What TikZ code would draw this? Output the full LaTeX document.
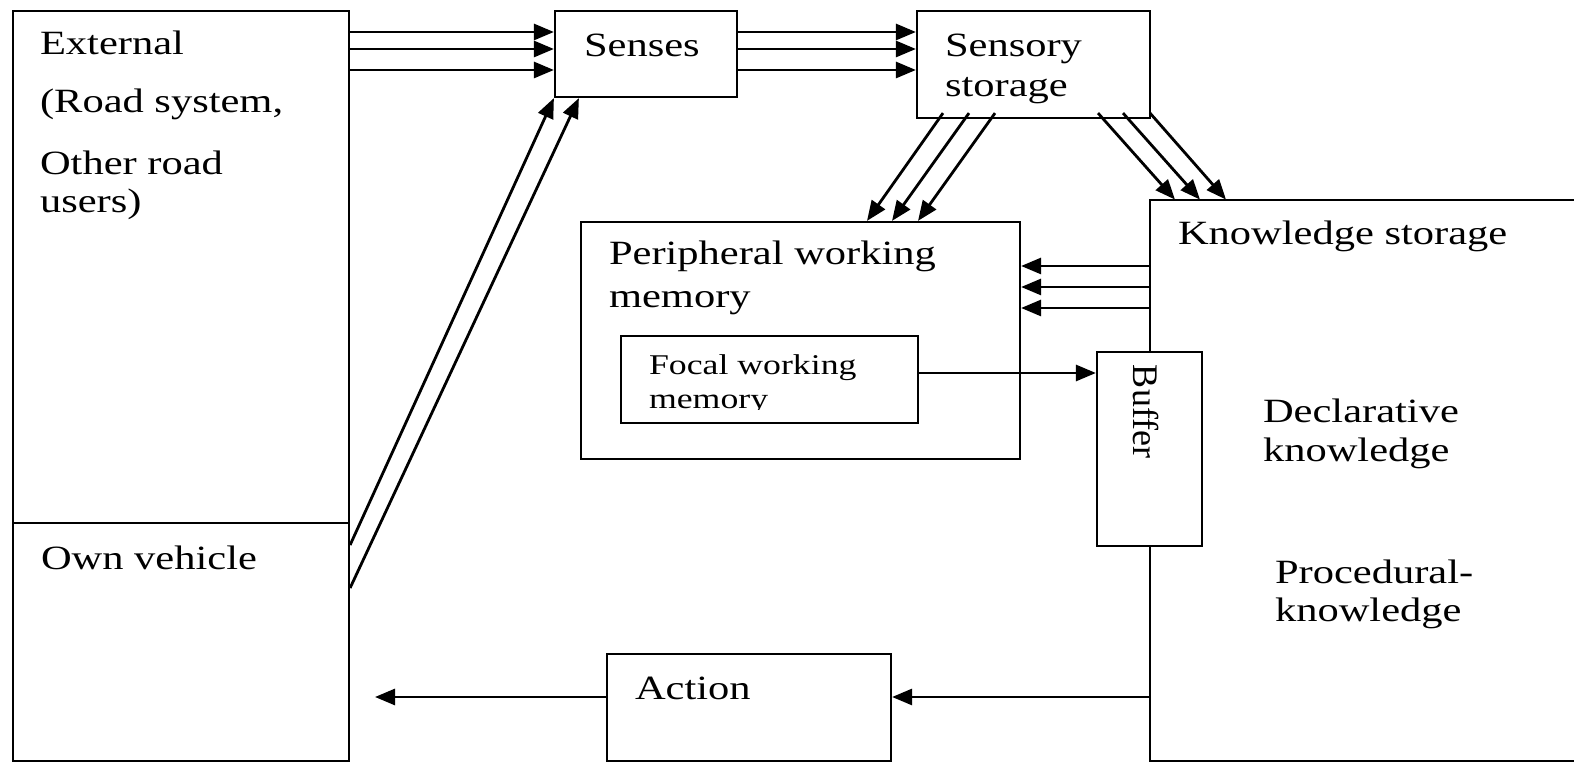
\documentclass[tikz,border=0pt]{standalone}
\usepackage{fontspec}
\setmainfont{Liberation Serif}[FakeStretch=1.25]
\newfontfamily\uprightfont{Liberation Serif}
\usetikzlibrary{arrows.meta}
\usetikzlibrary{fit}
\usetikzlibrary{calc}

\begin{document}
\begin{tikzpicture}[x=0.5pt,y=-0.5pt,
  box/.style={draw, line width=1.1pt, inner sep=0pt, fill=white},
  flow/.style={line width=1.4pt, -{Triangle[length=10pt,width=8pt]}},
  lbl/.style={anchor=base west, inner sep=0pt, outer sep=0pt,
    font=\fontsize{17}{20}\selectfont},
  smalllbl/.style={lbl, font=\fontsize{14.3}{17}\selectfont}]

\useasboundingbox (0,0) rectangle (1574,763);

% boxes
\node[box, fit={(13,11) (349,523)}] (ext) {};
\node[box, fit={(13,523) (349,761)}] (own) {};
\node[box, fit={(555,11) (737,97)}] (senses) {};
\node[box, fit={(917,11) (1150,118)}] (sstore) {};
\node[box, fit={(581,222) (1020,459)}] (periph) {};
\node[box, fit={(621,336) (918,423)}] (focal) {};
\node[box, fit={(607,654) (891,761)}] (action) {};

\node[inner sep=0pt, fit={(1150,200) (1574,761)}] (know) {};
\draw[line width=1pt] (know.north east) -- (know.north west)
  -- (know.south west) -- (know.south east);
\node[box, fit={(1097,352) (1202,546)}] (buffer) {};

\coordinate (actend) at (375,697);

% labels
\begin{scope}
\node[lbl] (lext1) at (40,55) {External};
\node[lbl] (lext2) at (40,113) {(Road system,};
\node[lbl] (lext3) at (40,175) {Other road};
\node[lbl] (lext4) at (40,213) {users)};
\node[lbl] (lown) at (41,570) {Own vehicle};
\node[lbl] (lsenses) at (584,57) {Senses};
\node[lbl] (lsstore1) at (945,57) {Sensory};
\node[lbl] (lsstore2) at (945,97) {storage};
\node[lbl] (lknow) at (1178,245) {Knowledge storage};
\node[lbl] (lperiph1) at (609,265) {Peripheral working};
\node[lbl] (lperiph2) at (609,308) {memory};
\node[lbl] (ldecl1) at (1263,423) {Declarative};
\node[lbl] (ldecl2) at (1263,462) {knowledge};
\node[lbl] (lproc1) at (1275,584) {Procedural-};
\node[lbl] (lproc2) at (1275,622) {knowledge};
\node[lbl] (laction) at (635,700) {Action};
\node[lbl, rotate=-90, font=\uprightfont\fontsize{18}{20}\selectfont]
  (lbuffer) at (1133,365) {Buffer};
\end{scope}

\begin{scope}
\clip (focal.north west) rectangle (focal.east |- 0,410);
\node[smalllbl] (lfocal1) at (649,375) {Focal working};
\node[smalllbl] (lfocal2) at (649,409) {memory};
\end{scope}

% arrows
\foreach \y in {32,49,70}
  \draw[flow] (ext.east |- 0,\y) -- (senses.west |- 0,\y);
\foreach \y in {32,49,70}
  \draw[flow] (senses.east |- 0,\y) -- (sstore.west |- 0,\y);

\draw[flow] (own.east |- 0,545) -- (senses.south west);
\draw[flow] (own.east |- 0,588) -- ($(senses.south west)+(25,0)$);

\foreach \a/\b in {943/867,969/892,995/918}
  \draw[flow] ($(sstore.south -| \a,0)+(0,-6)$) -- (periph.north -| \b,0);
\foreach \a/\b in {1098/1175,1123/1200,1150/1226}
  \draw[flow] ($(sstore.south -| \a,0)+(0,-6)$) -- (know.north -| \b,0);

\foreach \y in {266,287,308}
  \draw[flow] (know.west |- 0,\y) -- (periph.east |- 0,\y);

\draw[flow] (focal.east |- 0,373) -- (buffer.west |- 0,373);
\draw[flow] (know.west |- 0,697) -- (action.east |- 0,697);
\draw[flow] (action.west |- 0,697) -- (actend);

\end{tikzpicture}
\end{document}
